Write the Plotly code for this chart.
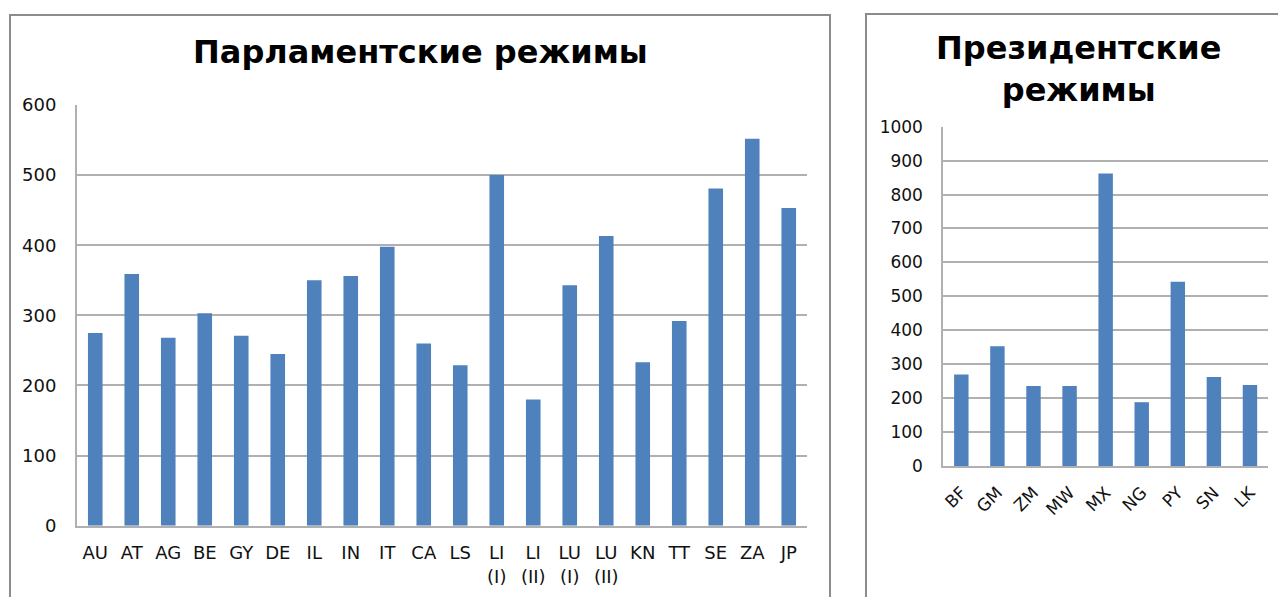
import plotly.graph_objects as go

W, H = 1278, 597

# Parliamentary regimes
parl_categories = ["AU", "AT", "AG", "BE", "GY", "DE", "IL", "IN", "IT", "CA", "LS",
                   "LI<br>(I)", "LI<br>(II)", "LU<br>(I)", "LU<br>(II)", "KN", "TT", "SE", "ZA", "JP"]
parl_values = [275, 359, 268, 303, 271, 245, 350, 356, 398, 260, 229,
               500, 180, 343, 413, 233, 292, 481, 552, 453]
parl_ticks = [0, 100, 200, 300, 400, 500, 600]

# Presidential regimes
pres_categories = ["BF", "GM", "ZM", "MW", "MX", "NG", "PY", "SN", "LK"]
pres_values = [270, 353, 236, 236, 862, 188, 543, 262, 239]
pres_ticks = [0, 100, 200, 300, 400, 500, 600, 700, 800, 900, 1000]

BAR = "#4F81BD"
GRID = "#B0B0B0"
FONT = "DejaVu Sans, Liberation Sans, Arial, sans-serif"

fig = go.Figure()
fig.add_trace(go.Bar(x=parl_categories, y=parl_values, marker=dict(color=BAR, line=dict(width=0)),
                     xaxis="x", yaxis="y", showlegend=False))
fig.add_trace(go.Bar(x=pres_categories, y=pres_values, marker=dict(color=BAR, line=dict(width=0)),
                     xaxis="x2", yaxis="y2", showlegend=False))

def px_x(v):
    return v / W

def px_y(v):
    return 1 - v / H

tickfont = dict(family=FONT, size=18, color="#111111")
tickfont2 = dict(family=FONT, size=17, color="#111111")

fig.update_layout(
    width=W, height=H, autosize=False,
    margin=dict(l=0, r=0, t=0, b=0, pad=0),
    paper_bgcolor="white", plot_bgcolor="white",
    bargap=0.6,
    font=dict(family=FONT),
    xaxis=dict(domain=[px_x(77), px_x(807)], anchor="y", showgrid=False, automargin=False,
               showline=True, linecolor=GRID, linewidth=2, ticks="",
               tickfont=tickfont, tickangle=0, ticklabelstandoff=10),
    yaxis=dict(domain=[px_y(525.7), px_y(105)], anchor="x", range=[0, 600], automargin=False,
               tickvals=parl_ticks, showgrid=True, gridcolor=GRID, gridwidth=2,
               showline=True, linecolor=GRID, linewidth=2, zeroline=False,
               ticks="", tickfont=tickfont, ticklabelstandoff=15),
    xaxis2=dict(domain=[px_x(943.3), px_x(1268)], anchor="y2", showgrid=False, automargin=False,
                showline=True, linecolor=GRID, linewidth=2, ticks="",
                tickfont=tickfont2, tickangle=-45, ticklabelstandoff=8),
    yaxis2=dict(domain=[px_y(466), px_y(126.7)], anchor="x2", range=[0, 1000], automargin=False,
                tickvals=pres_ticks, showgrid=True, gridcolor=GRID, gridwidth=2,
                showline=True, linecolor=GRID, linewidth=2, zeroline=False,
                ticks="", tickfont=tickfont2, ticklabelstandoff=15),
    shapes=[
        dict(type="rect", xref="paper", yref="paper",
             x0=px_x(10), x1=px_x(830), y0=px_y(640), y1=px_y(15),
             line=dict(color="#8C8C8C", width=2), fillcolor="rgba(0,0,0,0)", layer="below"),
        dict(type="rect", xref="paper", yref="paper",
             x0=px_x(866), x1=px_x(1320), y0=px_y(640), y1=px_y(14),
             line=dict(color="#8C8C8C", width=2), fillcolor="rgba(0,0,0,0)", layer="below"),
    ],
    annotations=[
        dict(text="<b>Парламентские режимы</b>", xref="paper", yref="paper",
             x=px_x(420), y=px_y(52), xanchor="center", yanchor="middle", showarrow=False,
             font=dict(family=FONT, size=32, color="black")),
        dict(text="<b>Президентские<br>режимы</b>", xref="paper", yref="paper",
             x=px_x(1078), y=px_y(69), xanchor="center", yanchor="middle", showarrow=False,
             font=dict(family=FONT, size=32, color="black")),
    ],
)

fig.write_html("out.html", config={"responsive": False, "displayModeBar": False},
               post_script="document.body.style.margin='0';document.body.style.overflow='hidden';")
